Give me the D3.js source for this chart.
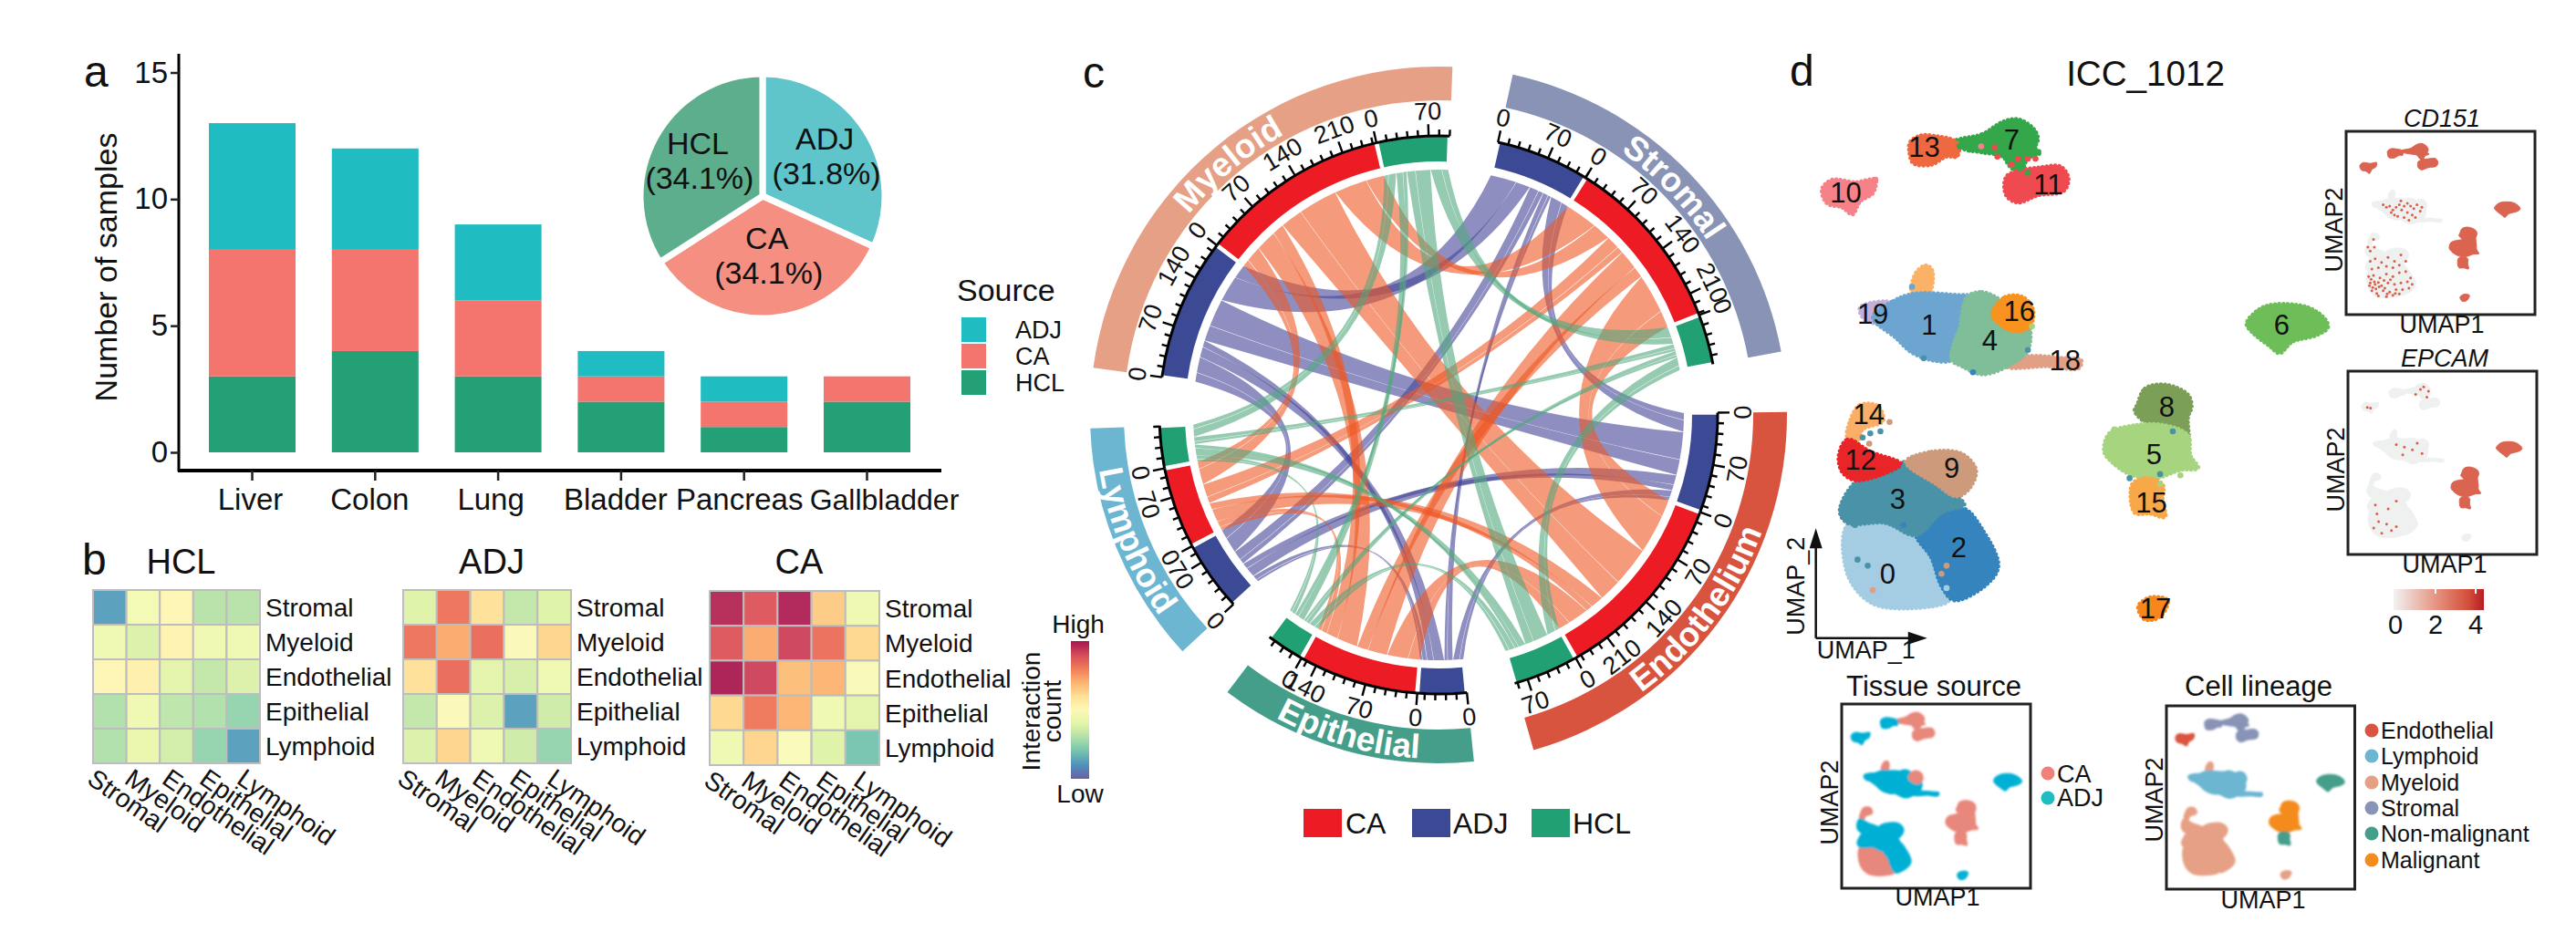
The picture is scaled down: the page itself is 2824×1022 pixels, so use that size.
<!DOCTYPE html>
<html><head><meta charset="utf-8">
<script src="https://cdn.jsdelivr.net/npm/d3@7"></script>
<style>html,body{margin:0;background:#fff}svg{display:block}text{font-family:"Liberation Sans",Arial,sans-serif;fill:#111}</style>
</head><body><svg id="c" width="2824" height="1022" viewBox="0 0 2824 1022"></svg>
<script>
// ---------- panel a
const organs=["Liver","Colon","Lung","Bladder","Pancreas","Gallbladder"];
const samplesHCL=[3,4,3,2,1,2];
const samplesCA=[5,4,3,1,1,1];
const samplesADJ=[5,4,3,1,1,0];
const sourceNames=["ADJ","CA","HCL"];
const sourceShare=[31.8,34.1,34.1];
// ---------- panel b
const lineages=["Stromal","Myeloid","Endothelial","Epithelial","Lymphoid"];
const heatHCL=[[.12,.45,.52,.31,.31],[.44,.38,.54,.44,.44],[.52,.55,.4,.33,.38],[.3,.44,.32,.3,.25],[.3,.42,.36,.25,.12]];
const heatADJ=[[.39,.82,.6,.33,.39],[.82,.72,.84,.5,.63],[.6,.84,.4,.37,.44],[.33,.5,.38,.12,.35],[.38,.63,.44,.35,.25]];
const heatCA=[[.97,.88,.98,.65,.44],[.88,.72,.92,.83,.62],[.99,.92,.68,.7,.48],[.62,.81,.7,.44,.4],[.44,.63,.49,.39,.2]];
// ---------- panel c (order: Stromal, Endothelium, Epithelial, Lymphoid, Myeloid); directional links
const sectorNames=["Stromal","Endothelium","Epithelial","Lymphoid","Myeloid"];
const linkADJ=[[0,18,8,14,40],[11,0,10,15,42],[5,6,0,7,16],[8,9,4,0,24],[22,24,10,14,0]];
const linkCA=[[0,60,30,20,50],[26,0,32,20,60],[17,18,0,9,32],[10,10,6,0,24],[28,34,18,11,0]];
const linkHCL=[[0,13,6,7,17],[7,0,9,11,23],[4,6,0,6,10],[4,6,4,0,12],[10,13,6,7,0]];
// ---------- panel d : cluster outlines
const clusters=[
 {id:"7",c:"#33A74A",p:[[345,258],[400,240],[440,210],[470,203],[500,225],[510,250],[505,275],[515,285],[490,300],[475,335],[455,320],[440,295],[400,285],[360,275]]},
 {id:"13",c:"#F0683F",p:[[258,260],[280,243],[310,245],[345,255],[355,270],[350,295],[330,295],[300,315],[265,312],[257,285]]},
 {id:"11",c:"#EF4A4F",p:[[447,345],[470,330],[510,322],[555,320],[570,350],[560,380],[510,390],[470,408],[447,390]]},
 {id:"10",c:"#F58289",p:[[85,375],[105,352],[150,358],[190,352],[185,385],[160,405],[145,437],[125,420],[95,410]]},
 {id:"tail",c:"#FBB267",p:[[262,630],[270,580],[290,562],[302,575],[295,632]]},
 {id:"19",c:"#C6AFD6",p:[[160,665],[225,655],[220,700],[190,705],[165,690]]},
 {id:"1",c:"#6BA5D0",p:[[185,690],[225,650],[265,632],[350,635],[380,640],[375,700],[355,750],[340,795],[300,795],[260,775],[230,740]]},
 {id:"18",c:"#E1A086",p:[[445,800],[490,785],[560,790],[595,795],[590,815],[530,810],[450,812]]},
 {id:"4",c:"#7FBE98",p:[[370,640],[400,628],[440,650],[490,700],[490,770],[450,810],[400,830],[360,810],[340,795],[345,750],[355,720]]},
 {id:"16",c:"#F7931E",p:[[420,685],[445,640],[480,640],[500,670],[495,710],[465,725]]},
 {id:"6",c:"#6DBE58",p:[[920,705],[945,670],[975,658],[1040,665],[1075,695],[1080,715],[1055,735],[1010,750],[985,778],[965,760],[930,725]]},
 {id:"8",c:"#7C9F58",p:[[705,905],[720,865],[760,855],[805,880],[812,910],[805,935],[805,1000],[780,970],[730,955],[700,920]]},
 {id:"5",c:"#A6D47F",p:[[640,1020],[650,975],[700,955],[760,955],[805,980],[810,1030],[825,1060],[790,1065],[740,1085],[690,1075],[655,1045]]},
 {id:"15",c:"#F7A849",p:[[695,1100],[720,1085],[755,1100],[755,1140],[760,1180],[730,1172],[700,1170]]},
 {id:"17",c:"#F7861D",p:[[707,1400],[730,1378],[765,1385],[750,1425],[720,1432]]},
 {id:"14",c:"#FAAE68",p:[[140,945],[160,905],[195,908],[205,945],[165,965],[155,995],[135,985]]},
 {id:"0",c:"#A4CDE4",p:[[135,1200],[210,1190],[270,1225],[300,1280],[320,1350],[335,1385],[250,1405],[180,1390],[135,1320]]},
 {id:"2",c:"#3584BE",p:[[270,1220],[320,1170],[365,1160],[400,1210],[432,1300],[410,1345],[345,1385],[320,1350],[300,1280]]},
 {id:"3",c:"#4A92A8",p:[[120,1165],[155,1090],[205,1075],[250,1045],[310,1100],[350,1130],[365,1150],[320,1170],[270,1225],[210,1195],[135,1195]]},
 {id:"9",c:"#CE9A7C",p:[[250,1045],[300,1020],[360,1025],[388,1065],[375,1110],[350,1130],[310,1100]]},
 {id:"12",c:"#E8262A",p:[[118,1030],[135,990],[180,1020],[240,1050],[205,1075],[150,1090],[125,1070]]}
];
const clusterLabels=[["0",214,1320],["1",296,708],["2",354,1255],["3",234,1135],["4",415,745],["5",738,1025],["6",989,707],["7",458,252],["8",763,910],["9",340,1060],["10",132,382],["11",530,362],["12",161,1040],["13",286,270],["14",177,928],["15",733,1145],["16",473,674],["17",741,1404],["18",563,795],["19",185,680]];
const strayDots=[[355,270,"#33A74A"],[375,278,"#33A74A"],[398,270,"#F58289"],[425,272,"#EF4A4F"],[430,295,"#EF4A4F"],[458,315,"#EF4A4F"],[470,300,"#EF4A4F"],[490,300,"#EF4A4F"],[505,300,"#EF4A4F"],[475,325,"#33A74A"],[490,335,"#33A74A"],[455,345,"#EF4A4F"],[450,360,"#EF4A4F"],[510,285,"#33A74A"],[345,275,"#F0683F"],[350,290,"#F0683F"],[190,352,"#F58289"],[285,790,"#4A92A8"],[382,825,"#3584BE"],[498,712,"#A6D47F"],[262,615,"#6BA5D0"],[218,947,"#CE9A7C"],[200,970,"#4A92A8"],[180,975,"#4A92A8"],[178,1000,"#CE9A7C"],[165,985,"#4A92A8"],[690,1085,"#4A92A8"],[750,1075,"#4A92A8"],[790,1078,"#A6D47F"],[660,965,"#A6D47F"],[750,1100,"#A6D47F"],[155,1285,"#4A92A8"],[175,1300,"#4A92A8"],[185,1360,"#E1A086"],[330,1300,"#CE9A7C"],[320,1320,"#CE9A7C"],[330,1355,"#A4CDE4"],[150,1200,"#4A92A8"],[190,1180,"#4A92A8"],[245,1200,"#3584BE"],[490,770,"#4A92A8"],[775,970,"#4A92A8"]];
const tissueOf={"7":"CA","13":"ADJ","11":"CA","10":"ADJ","tail":"CA","19":"ADJ","1":"ADJ","18":"ADJ","4":"ADJ","16":"CA","6":"ADJ","8":"CA","5":"CA","15":"CA","17":"ADJ","14":"CA","0":"CA","2":"ADJ","3":"ADJ","9":"ADJ","12":"ADJ"};
const lineageOf={"7":"Stromal","13":"Stromal","11":"Stromal","10":"Endothelial","tail":"Myeloid","19":"Lymphoid","1":"Lymphoid","18":"Lymphoid","4":"Lymphoid","16":"Lymphoid","6":"Non-malignant","8":"Malignant","5":"Malignant","15":"Non-malignant","17":"Myeloid","14":"Myeloid","0":"Myeloid","2":"Myeloid","3":"Myeloid","9":"Myeloid","12":"Myeloid"};
const lineageNames=["Endothelial","Lymphoid","Myeloid","Stromal","Non-malignant","Malignant"];
const lineageColors=["#D9543F","#6CB6D2","#E5A085","#8893B5","#459E8A","#F48B1F"];
const cd151Strong=["7","13","11","10","6","8","5","15","17"];
const epcamStrong=["6","8","5","15"];
const cd151Dots=[[230,680],[250,700],[270,690],[290,720],[310,700],[330,680],[345,720],[300,760],[320,770],[360,690],[380,670],[400,690],[420,710],[440,680],[460,730],[410,760],[380,740],[360,780],[430,780],[470,700],[280,740],[340,650],[390,800],[150,1120],[180,1100],[220,1130],[260,1090],[300,1120],[340,1070],[160,1180],[200,1170],[250,1160],[290,1170],[330,1150],[370,1120],[140,1240],[170,1230],[210,1250],[250,1220],[290,1240],[330,1210],[370,1200],[400,1250],[150,1290],[180,1300],[220,1310],[260,1290],[300,1300],[340,1290],[380,1280],[410,1300],[160,1350],[190,1370],[230,1350],[270,1360],[310,1340],[350,1340],[390,1330],[200,1390],[250,1395],[150,1040],[170,950],[175,1010],[135,1010],[145,1310],[165,1325],[185,1335],[205,1320],[240,1330],[255,1375],[290,1385],[175,1280],[200,1285],[235,1270],[275,1265],[155,1260],[305,1370],[330,1375]];
const epcamDots=[[300,680],[350,700],[400,720],[340,760],[430,670],[460,750],[450,250],[470,230],[490,310],[140,395],[120,390],[170,1150],[250,1180],[300,1120],[190,1280],[240,1300],[160,1330],[300,1320],[210,1370],[420,290],[500,265],[270,1350],[180,1220]];
const featureLegend=[0,2,4];

// ---------- helpers
const svg=d3.select("#c");
const txt=(g,s,x,y,size,o={})=>{const t=g.append("text").attr("x",x).attr("y",y).attr("font-size",size).text(s);
  if(o.anchor)t.attr("text-anchor",o.anchor); if(o.rot!=null)t.attr("transform",`rotate(${o.rot} ${x} ${y})`);
  if(o.italic)t.attr("font-style","italic"); if(o.base)t.attr("dominant-baseline",o.base); return t;};
[["a",92,95],["b",90,630],["c",1187,96],["d",1962,94]].forEach(d=>txt(svg,d[0],d[1],d[2],48));

// ---------- panel a
(function(){
 const g=svg.append("g");
 const x=d3.scaleBand().domain(organs).range([229,998]).paddingInner(.295).paddingOuter(0);
 const y=d3.scaleLinear().domain([0,15]).range([496,79.5]);
 const rows=organs.map((o,i)=>({o,HCL:samplesHCL[i],CA:samplesCA[i],ADJ:samplesADJ[i]}));
 const col={ADJ:"#1FBCC1",CA:"#F4756D",HCL:"#24A077"};
 d3.stack().keys(["HCL","CA","ADJ"])(rows).forEach(s=>{
  g.append("g").attr("fill",col[s.key]).selectAll("rect").data(s).join("rect")
   .attr("x",d=>x(d.data.o)).attr("width",x.bandwidth()).attr("y",d=>y(d[1])).attr("height",d=>y(d[0])-y(d[1]));
 });
 const ya=g.append("g").attr("transform","translate(196,0)").call(d3.axisLeft(y).tickValues([0,5,10,15]).tickSize(9).tickPadding(3).tickSizeOuter(0));
 const xa=g.append("g").attr("transform","translate(0,516)").call(d3.axisBottom(x).tickSize(11).tickPadding(9).tickSizeOuter(0));
 ya.select(".domain").attr("d","M0,59V517").attr("stroke","#000").attr("stroke-width",3);
 xa.select(".domain").attr("d","M195,0H1032").attr("stroke","#000").attr("stroke-width",4);
 [ya,xa].forEach(a=>{a.selectAll("line").attr("stroke","#222").attr("stroke-width",2.5);a.selectAll("text").attr("font-size",33).attr("font-family",null);});
 const nudge=[-2,-6,-8,-6,-5,19];
 xa.selectAll("text").attr("dx",(d,i)=>nudge[i]);
 xa.selectAll("text").attr("font-size",(d)=>d=="Gallbladder"?32:33);
 txt(g,"Number of samples",128,293,34,{anchor:"middle",rot:-90});
 // pie
 const pie=d3.pie().sort(null)(sourceShare);
 const pc=g.append("g").attr("transform","translate(836,215)");
 const arc=d3.arc().innerRadius(0).outerRadius(134);
 const pcol=["#5FC5CB","#F48F82","#5DAE8D"];
 pc.selectAll("path").data(pie).join("path").attr("d",arc).attr("fill",(d,i)=>pcol[i]).attr("stroke","#fff").attr("stroke-width",7);
 pie.forEach((d,i)=>{
  const a=(d.startAngle+d.endAngle)/2, r=i==1?65:81;
  const px=r*Math.sin(a), py=-r*Math.cos(a);
  txt(pc,sourceNames[i],px,py-7,34,{anchor:"middle"});
  txt(pc,`(${sourceShare[i].toFixed(1)}%)`,px+2,py+31,34,{anchor:"middle"});
 });
 // legend
 txt(g,"Source",1049,330,34);
 sourceNames.forEach((n,i)=>{
  g.append("rect").attr("x",1054).attr("y",348+i*29).attr("width",27).attr("height",27).attr("fill",col[n]);
  txt(g,n,1113,371+i*29,27);
 });
})();

// ---------- panel b
(function(){
 const col=v=>d3.interpolateSpectral(1-v);
 [["HCL",heatHCL,102,647,183,190],["ADJ",heatADJ,442,647,184,190],["CA",heatCA,778,648,186,191]].forEach(([name,m,x0,y0,w,h])=>{
  const g=svg.append("g");
  const x=d3.scaleBand().domain(lineages).range([x0,x0+w]);
  const y=d3.scaleBand().domain(lineages).range([y0,y0+h]);
  lineages.forEach((r,i)=>lineages.forEach((c,j)=>{
   g.append("rect").attr("x",x(c)).attr("y",y(r)).attr("width",x.bandwidth()).attr("height",y.bandwidth())
    .attr("fill",col(m[i][j])).attr("fill-opacity",.88).attr("stroke","#BDBDBD").attr("stroke-width",2);
  }));
  txt(g,name,x0+w/2+5,629,38,{anchor:"middle"});
  lineages.forEach(r=>txt(g,r,x0+w+6,y(r)+y.bandwidth()/2+10,28));
  const lx=d3.scalePoint().domain(lineages).range([x0-8,x0+156]);
  lineages.forEach(c=>txt(g,c,lx(c),y0+h+21,28.5,{rot:35}));
 });
 const defs=svg.append("defs");
 const lg=defs.append("linearGradient").attr("id","spec").attr("x1",0).attr("x2",0).attr("y1",0).attr("y2",1);
 d3.range(0,1.01,.1).forEach(t=>lg.append("stop").attr("offset",t).attr("stop-color",d3.interpolateSpectral(t)));
 svg.append("rect").attr("x",1174).attr("y",703).attr("width",20).attr("height",151).attr("fill","url(#spec)").attr("fill-opacity",.92);
 txt(svg,"High",1182,694,28,{anchor:"middle"});
 txt(svg,"Low",1184,880,28,{anchor:"middle"});
 txt(svg,"Interaction",1140,780,28,{anchor:"middle",rot:-90});
 txt(svg,"count",1163,780,28,{anchor:"middle",rot:-90});
})();

// ---------- panel c
(function(){
 const cx=1577,cy=455;
 const g=svg.append("g").attr("transform",`translate(${cx},${cy})`);
 const rad=d=>d*Math.PI/180;
 const pt=(a,r)=>[r*Math.sin(rad(a)),-r*Math.cos(rad(a))];
 const tissues=[{n:"ADJ",m:linkADJ,sec:"#3C4A96",rib:"#434496"},{n:"CA",m:linkCA,sec:"#ED1C24",rib:"#EE5723"},{n:"HCL",m:linkHCL,sec:"#21A073",rib:"#52A87D"}];
 const bandCol=["#8893B5","#D9543F","#459E8A","#6CB6D2","#E5A085"];
 const grand=2*d3.sum(tissues,t=>d3.sum(t.m.flat()));
 const deg=d3.scaleLinear().domain([0,grand]).range([0,310]);
 const gap=10; let a=12.3;
 const layout=sectorNames.map((n,i)=>{
  const s={n,i,start:a,parts:{}};
  tissues.forEach(t=>{const tot=d3.sum(t.m[i])+d3.sum(t.m,r=>r[i]);const w=deg(tot);
   s.parts[t.n]={tot,scale:d3.scaleLinear().domain([0,tot]).range([a,a+w]),a0:a,a1:a+w};a+=w;});
  s.end=a;s.mid=(s.start+s.end)/2;a+=gap;return s;});
 const R0=269;
 const ctrlR=d3.scaleLinear().domain([70,150]).range([85,6]).clamp(true);
 const ctrlPt=(p,q)=>{let vx=p[0]+q[0],vy=p[1]+q[1],l=Math.hypot(vx,vy);
   const th=Math.acos(Math.max(-1,Math.min(1,(p[0]*q[0]+p[1]*q[1])/(R0*R0))))*180/Math.PI;
   if(l<1)return [0,0]; const c=ctrlR(th); return [vx/l*c,vy/l*c];};
 const ribLayer=g.append("g");
 tissues.forEach(t=>{
  // link slots inside each sector: neighbours fan out; each pair holds two directional links
  const slots=layout.map((s,i)=>{
   const order=layout.filter(o=>o.i!=i).sort((p,q)=>((q.mid-s.mid+360)%360)-((p.mid-s.mid+360)%360));
   let c=0;const res={};
   order.forEach(o=>{
    const j=o.i, lo=Math.min(i,j),hi=Math.max(i,j);
    const twist=(i+j)%2==0;
    let seq=[[lo,hi],[hi,lo]];
    if(!twist&&i==hi)seq=seq.reverse();
    seq.forEach(([u,v])=>{const w=t.m[u][v];res[u+"-"+v]=[c,c+w];c+=w;});
   });
   return res;});
  layout.forEach((s,i)=>layout.forEach((o,j)=>{
   if(i==j||!t.m[i][j])return;
   const k=i+"-"+j, sa=s.parts[t.n].scale,sb=o.parts[t.n].scale;
   const a0=sa(slots[i][k][0])+.05,a1=sa(slots[i][k][1])-.05,b0=sb(slots[j][k][0])+.05,b1=sb(slots[j][k][1])-.05;
   const p=d3.path();const P=(x)=>pt(x,R0);
   p.moveTo(...P(a0));p.arc(0,0,R0,rad(a0)-Math.PI/2,rad(a1)-Math.PI/2);
   p.quadraticCurveTo(...ctrlPt(P(a1),P(b0)),...P(b0));
   p.arc(0,0,R0,rad(b0)-Math.PI/2,rad(b1)-Math.PI/2);
   p.quadraticCurveTo(...ctrlPt(P(b1),P(a0)),...P(a0));p.closePath();
   ribLayer.append("path").attr("d",p.toString()).attr("fill",t.rib).attr("fill-opacity",.6);
  }));
 });
 const ringArc=d3.arc().innerRadius(278).outerRadius(305);
 const bandArc=d3.arc().innerRadius(345).outerRadius(382);
 const defs=svg.append("defs");
 layout.forEach((s,si)=>{
  g.append("path").attr("d",bandArc({startAngle:rad(s.start),endAngle:rad(s.end)})).attr("fill",bandCol[si]);
  const lower=s.mid>90&&s.mid<270, rb=lower?377:351;
  const st=pt(lower?s.end:s.start,rb),en=pt(lower?s.start:s.end,rb);
  const id="lab"+si;
  defs.append("path").attr("id",id).attr("d",`M${cx+st[0]},${cy+st[1]}A${rb},${rb} 0 0 ${lower?0:1} ${cx+en[0]},${cy+en[1]}`);
  svg.append("text").attr("font-size",37).attr("font-weight","bold").style("fill","#fff").attr("text-anchor","middle")
   .append("textPath").attr("href","#"+id).attr("startOffset","50%").text(s.n);
  tissues.forEach(t=>{
   const q=s.parts[t.n];
   g.append("path").attr("d",ringArc({startAngle:rad(q.a0+.45),endAngle:rad(q.a1-.45)})).attr("fill",t.sec);
   d3.range(0,q.tot+.001,14).forEach(v=>{
    const aa=q.scale(v),maj=v%70==0,p1=pt(aa,306),p2=pt(aa,306+(maj?13:7));
    g.append("line").attr("x1",p1[0]).attr("y1",p1[1]).attr("x2",p2[0]).attr("y2",p2[1]).attr("stroke","#000").attr("stroke-width",2.4);
    if(maj){const l=pt(aa,333),up=aa<90||aa>270;
     g.append("text").attr("transform",`translate(${l[0]},${l[1]}) rotate(${up?aa:aa+180})`)
      .attr("text-anchor","middle").attr("dominant-baseline","central").attr("font-size",27).text(v);}
   });
   const b=d3.path();b.arc(0,0,306,rad(q.a0)-Math.PI/2,rad(q.a1)-Math.PI/2);
   g.append("path").attr("d",b.toString()).attr("fill","none").attr("stroke","#000").attr("stroke-width",3);
  });
 });
 [["CA",1429,1475,"#ED1C24"],["ADJ",1548,1593,"#3C4A96"],["HCL",1679,1724,"#21A073"]].forEach(d=>{
  svg.append("rect").attr("x",d[1]).attr("y",887).attr("width",42).attr("height",31).attr("fill",d[3]);
  txt(svg,d[0],d[2],914,32);
 });
})();

// ---------- panel d
(function(){
 const g=svg.append("g");
 const X=d3.scaleLinear().domain([0,1568]).range([1950,2824]);
 const Y=d3.scaleLinear().domain([0,1568]).range([40,740]);
 const blob=(x,y)=>d3.line().x(d=>x(d[0])).y(d=>y(d[1])).curve(d3.curveCatmullRomClosed.alpha(.5));
 const main=blob(X,Y);
 clusters.forEach(c=>{
  g.append("path").attr("d",main(c.p)).attr("fill",c.c).attr("stroke",c.c).attr("stroke-width",1);
  g.append("path").attr("d",main(c.p)).attr("fill","none").attr("stroke",c.c).attr("stroke-width",4.5)
   .attr("stroke-linecap","round").attr("stroke-dasharray","0.1 4.5");
 });
 g.selectAll("circle.st").data(strayDots).join("circle").attr("cx",d=>X(d[0])).attr("cy",d=>Y(d[1])).attr("r",3.3).attr("fill",d=>d[2]);
 clusterLabels.forEach(d=>txt(g,d[0],X(d[1]),Y(d[2])+11,31,{anchor:"middle"}));
 txt(g,"ICC_1012",2352,94,38.6,{anchor:"middle"});
 // arrows
 const ax=X(73),ay=Y(1478);
 g.append("path").attr("d",`M${ax},${ay}V${Y(1225)}M${ax},${ay}H${X(265)}`).attr("stroke","#111").attr("stroke-width",2.5).attr("fill","none");
 g.append("path").attr("d",`M${ax},${Y(1208)}l-7,22h14zM${X(292)},${ay}l-21,-7v14z`).attr("fill","#111");
 txt(g,"UMAP_2",X(50),Y(1350),27,{anchor:"middle",rot:-90});
 txt(g,"UMAP_1",X(75),Y(1528),27);

 // mini panels
 const blur=svg.append("defs").append("filter").attr("id","soft").attr("x","-5%").attr("y","-5%").attr("width","110%").attr("height","110%");
 blur.append("feGaussianBlur").attr("stdDeviation",1.2);
 function mini(b,dom,colorOf,o={}){
  const x=d3.scaleLinear().domain(dom[0]).range([b[0],b[1]]);
  const y=d3.scaleLinear().domain(dom[1]).range([b[2],b[3]]);
  const m=g.append("g");
  const l=blob(x,y);
  const inner=m.append("g"); if(o.soft)inner.attr("filter","url(#soft)");
  clusters.forEach(c=>inner.append("path").attr("d",l(c.p)).attr("fill",colorOf(c.id)).attr("stroke",colorOf(c.id)).attr("stroke-width",o.sw||1));
  if(o.dots)m.selectAll("circle").data(o.dots).join("circle").attr("cx",d=>x(d[0])).attr("cy",d=>y(d[1])).attr("r",1.5).attr("fill","#D9604A");
  m.append("rect").attr("x",b[0]).attr("y",b[2]).attr("width",b[1]-b[0]).attr("height",b[3]-b[2]).attr("fill","none").attr("stroke","#222").attr("stroke-width",3);
 }
 const fDom=[[0,1172],[108,1536]];
 const grey="#EFF1F0",red="#DB6450";
 mini([2572,2779,144,345],fDom,id=>cd151Strong.includes(id)?red:grey,{dots:cd151Dots});
 mini([2574,2781,407,608],fDom,id=>epcamStrong.includes(id)?red:grey,{dots:epcamDots});
 txt(g,"CD151",2677,139,27,{anchor:"middle",italic:true});
 txt(g,"EPCAM",2680,402,27,{anchor:"middle",italic:true});
 txt(g,"UMAP1",2677,365,27,{anchor:"middle"});
 txt(g,"UMAP1",2680,628,27,{anchor:"middle"});
 txt(g,"UMAP2",2568,252,27,{anchor:"middle",rot:-90});
 txt(g,"UMAP2",2570,515,27,{anchor:"middle",rot:-90});
 const grad=svg.append("defs").append("linearGradient").attr("id","feat");
 [[0,"#F2F2F0"],[.5,"#E48E7C"],[.82,"#D4503C"],[1,"#B81D24"]].forEach(s=>grad.append("stop").attr("offset",s[0]).attr("stop-color",s[1]));
 g.append("rect").attr("x",2624).attr("y",646).attr("width",99).attr("height",23).attr("fill","url(#feat)");
 const fs=d3.scaleLinear().domain([0,4]).range([2626,2714]);
 featureLegend.forEach(v=>{
  if(v)g.append("line").attr("x1",fs(v)).attr("x2",fs(v)).attr("y1",646).attr("y2",651).attr("stroke","#fff").attr("stroke-width",2);
  txt(g,v,fs(v),695,29,{anchor:"middle"});
 });
 // tissue source
 const tCol={CA:"#E8877C",ADJ:"#00B0D4"};
 mini([2019,2226,772,974],[[27,1134],[139,1500]],id=>tCol[tissueOf[id]],{soft:true,sw:2});
 txt(g,"Tissue source",2120,763,31,{anchor:"middle"});
 txt(g,"UMAP1",2124,993,27,{anchor:"middle"});
 txt(g,"UMAP2",2015,880,27,{anchor:"middle",rot:-90});
 [["CA","#F0807A",848,858],["ADJ","#1FBCC1",875,884]].forEach(d=>{
  g.append("circle").attr("cx",2245).attr("cy",d[2]).attr("r",7.5).attr("fill",d[1]);
  txt(g,d[0],2255,d[3],27);
 });
 // lineage
 const lCol=id=>lineageColors[lineageNames.indexOf(lineageOf[id])];
 mini([2375,2581.5,774,975],[[28,1144],[140,1512]],lCol,{soft:true,sw:2});
 txt(g,"Cell lineage",2476,763,31,{anchor:"middle"});
 txt(g,"UMAP1",2481,996,27,{anchor:"middle"});
 txt(g,"UMAP2",2371,877,27,{anchor:"middle",rot:-90});
 lineageNames.forEach((n,i)=>{
  const yy=[801,829,858,886,914,943][i];
  g.append("circle").attr("cx",2600).attr("cy",yy).attr("r",7.5).attr("fill",lineageColors[i]);
  txt(g,n,2610,yy+9,25);
 });
})();
</script></body></html>
